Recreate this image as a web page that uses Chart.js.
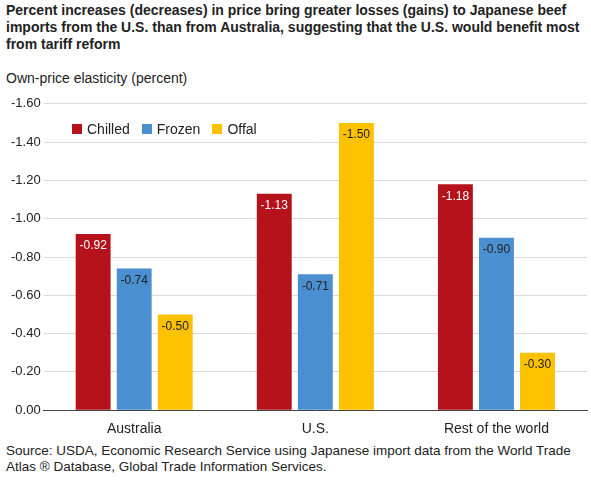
<!DOCTYPE html>
<html><head>
<script src="https://cdn.jsdelivr.net/npm/chart.js@4"></script>
<style>
body{margin:0;width:591px;height:481px;font-family:Arial,"Liberation Sans",sans-serif;position:relative;overflow:hidden;background:#fff}
#title{position:absolute;left:6px;top:2px;width:580px;font-size:14px;font-weight:bold;line-height:17px;color:#222}
#ylab{position:absolute;left:6px;top:70px;font-size:14px;color:#222}
#wrap{position:absolute;left:0;top:93px;width:591px;height:348px}
#legend{position:absolute;left:72px;top:121px;font-size:14px;color:#222}
#legend span{display:inline-block;width:10px;height:10px;margin:0 5px 0 0}
#legend b{font-weight:normal;margin-right:12px}
#src{position:absolute;left:6px;top:443px;font-size:13.5px;line-height:16px;color:#222}
</style></head><body>
<div id="title">Percent increases (decreases) in price bring greater losses (gains) to Japanese beef imports from the U.S. than from Australia, suggesting that the U.S. would benefit most from tariff reform</div>
<div id="ylab">Own-price elasticity (percent)</div>
<div id="wrap"><canvas id="c"></canvas></div>
<div id="legend"><span style="background:#b5121b"></span><b>Chilled</b><span style="background:#4a8fcf"></span><b>Frozen</b><span style="background:#fcc100"></span><b>Offal</b></div>
<div id="src">Source: USDA, Economic Research Service using Japanese import data from the World Trade Atlas ® Database, Global Trade Information Services.</div>
<script>
const categories = ['Australia', 'U.S.', 'Rest of the world'];
const chilled = [-0.92, -1.13, -1.18];
const frozen = [-0.74, -0.71, -0.90];
const offal = [-0.50, -1.50, -0.30];
const seriesNames = ['Chilled', 'Frozen', 'Offal'];
const seriesColors = ['#b5121b', '#4a8fcf', '#fcc100'];
const labelColors = ['#fff', '#222', '#222'];

const valueLabels = {
    id: 'valueLabels',
    afterDatasetsDraw(chart) {
        const ctx = chart.ctx;
        ctx.font = '12px Arial, "Liberation Sans"';
        ctx.textAlign = 'center';
        ctx.textBaseline = 'middle';
        chart.data.datasets.forEach((ds, di) => {
            chart.getDatasetMeta(di).data.forEach((bar, i) => {
                ctx.fillStyle = labelColors[di];
                ctx.fillText(ds.data[i].toFixed(2), bar.x, bar.y + 12);
            });
        });
    }
};

new Chart(document.getElementById('c'), {
    type: 'bar',
    data: {
        labels: categories,
        datasets: [chilled, frozen, offal].map((d, i) => ({
            label: seriesNames[i], data: d, backgroundColor: seriesColors[i],
            barPercentage: 0.85, categoryPercentage: 0.68
        }))
    },
    options: {
        responsive: true, maintainAspectRatio: false, animation: false,
        layout: { padding: { top: 6, right: 4, left: 8 } },
        plugins: { legend: { display: false }, tooltip: { enabled: false } },
        scales: {
            y: {
                reverse: true, min: -1.6, max: 0,
                ticks: { stepSize: 0.2, color: '#222', font: { size: 13 }, callback: v => v.toFixed(2) },
                grid: { color: '#d9d9d9', drawTicks: false },
                border: { display: false }
            },
            x: {
                grid: { display: false },
                border: { color: '#444' },
                ticks: { color: '#222', font: { size: 14 } }
            }
        }
    },
    plugins: [valueLabels]
});
</script>
</body></html>
